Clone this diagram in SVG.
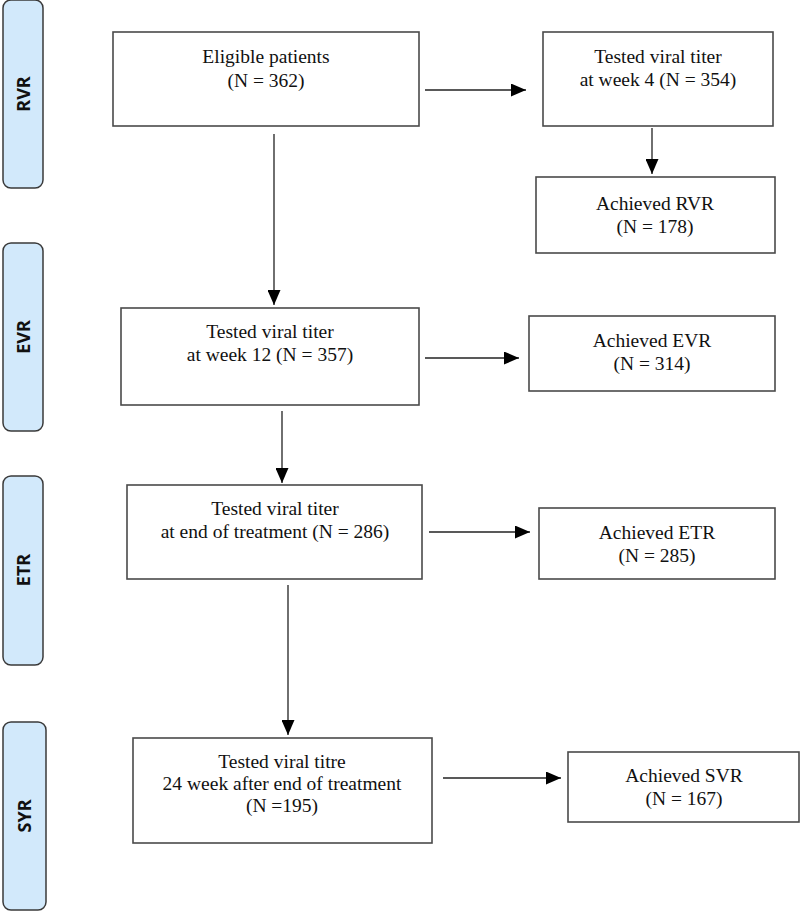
<svg xmlns="http://www.w3.org/2000/svg" width="800" height="911" viewBox="0 0 800 911">
<defs>
<marker id="ah" viewBox="0 0 15 13" refX="15" refY="6.5" markerWidth="15" markerHeight="13" markerUnits="userSpaceOnUse" orient="auto">
<path d="M0,0 L15,6.5 L0,13 Z" fill="#000"/>
</marker>
</defs>
<style>
.bar{fill:#d2e9fb;stroke:#3a3a3a;stroke-width:1.5}
.bl{font-family:"Open Sans","DejaVu Sans",sans-serif;font-weight:700;font-size:18px;fill:#111;text-anchor:middle}
.box{fill:#fff;stroke:#4a4a4a;stroke-width:1.6}
.t{font-family:"Liberation Serif","Times New Roman",serif;font-size:19.5px;fill:#111;text-anchor:middle}
.c{stroke:#222;stroke-width:1.3;fill:none;marker-end:url(#ah)}
</style>
<rect width="800" height="911" fill="#fff"/>
<g id="bar-rvr"><rect class="bar" x="3" y="0" width="40" height="188" rx="8"/><text class="bl" transform="translate(30,94) rotate(-90)">RVR</text></g>
<g id="bar-evr"><rect class="bar" x="3" y="243" width="40" height="188" rx="8"/><text class="bl" transform="translate(30,337) rotate(-90)">EVR</text></g>
<g id="bar-etr"><rect class="bar" x="3" y="476" width="40" height="189" rx="8"/><text class="bl" transform="translate(30,570) rotate(-90)">ETR</text></g>
<g id="bar-syr"><rect class="bar" x="3" y="722" width="43" height="188" rx="8"/><text class="bl" transform="translate(31,816) rotate(-90)">SYR</text></g>

<g id="eligible"><rect class="box" x="113" y="32" width="306" height="94"/><text class="t" x="266" y="63">Eligible patients</text><text class="t" x="266" y="87">(N = 362)</text></g>
<g id="week4"><rect class="box" x="543" y="32" width="230" height="94"/><text class="t" x="658" y="63">Tested viral titer</text><text class="t" x="658" y="86">at week 4 (N = 354)</text></g>
<g id="rvr"><rect class="box" x="536" y="177" width="239" height="76"/><text class="t" x="655" y="210">Achieved RVR</text><text class="t" x="655" y="233">(N = 178)</text></g>
<g id="week12"><rect class="box" x="121" y="308" width="298" height="97"/><text class="t" x="270" y="338">Tested viral titer</text><text class="t" x="270" y="361">at week 12 (N = 357)</text></g>
<g id="evr"><rect class="box" x="529" y="316" width="246" height="75"/><text class="t" x="652" y="347">Achieved EVR</text><text class="t" x="652" y="370">(N = 314)</text></g>
<g id="endtx"><rect class="box" x="127" y="485" width="295" height="94"/><text class="t" x="275" y="515">Tested viral titer</text><text class="t" x="275" y="538">at end of treatment (N = 286)</text></g>
<g id="etr"><rect class="box" x="539" y="508" width="236" height="71"/><text class="t" x="657" y="539">Achieved ETR</text><text class="t" x="657" y="562">(N = 285)</text></g>
<g id="week24"><rect class="box" x="133" y="738" width="299" height="105"/><text class="t" x="282" y="768">Tested viral titre</text><text class="t" x="282" y="790">24 week after end of treatment</text><text class="t" x="282" y="812">(N =195)</text></g>
<g id="svr"><rect class="box" x="568" y="752" width="231" height="70"/><text class="t" x="684" y="782">Achieved SVR</text><text class="t" x="684" y="805">(N = 167)</text></g>

<g id="connectors">
<line class="c" x1="425" y1="90" x2="526" y2="90"/>
<line class="c" x1="652" y1="128" x2="652" y2="174"/>
<line class="c" x1="274" y1="134" x2="274" y2="305"/>
<line class="c" x1="425" y1="358" x2="519" y2="358"/>
<line class="c" x1="282" y1="411" x2="282" y2="483"/>
<line class="c" x1="429" y1="532" x2="530" y2="532"/>
<line class="c" x1="288" y1="585" x2="288" y2="735"/>
<line class="c" x1="443" y1="778" x2="561" y2="778"/>
</g>
</svg>
